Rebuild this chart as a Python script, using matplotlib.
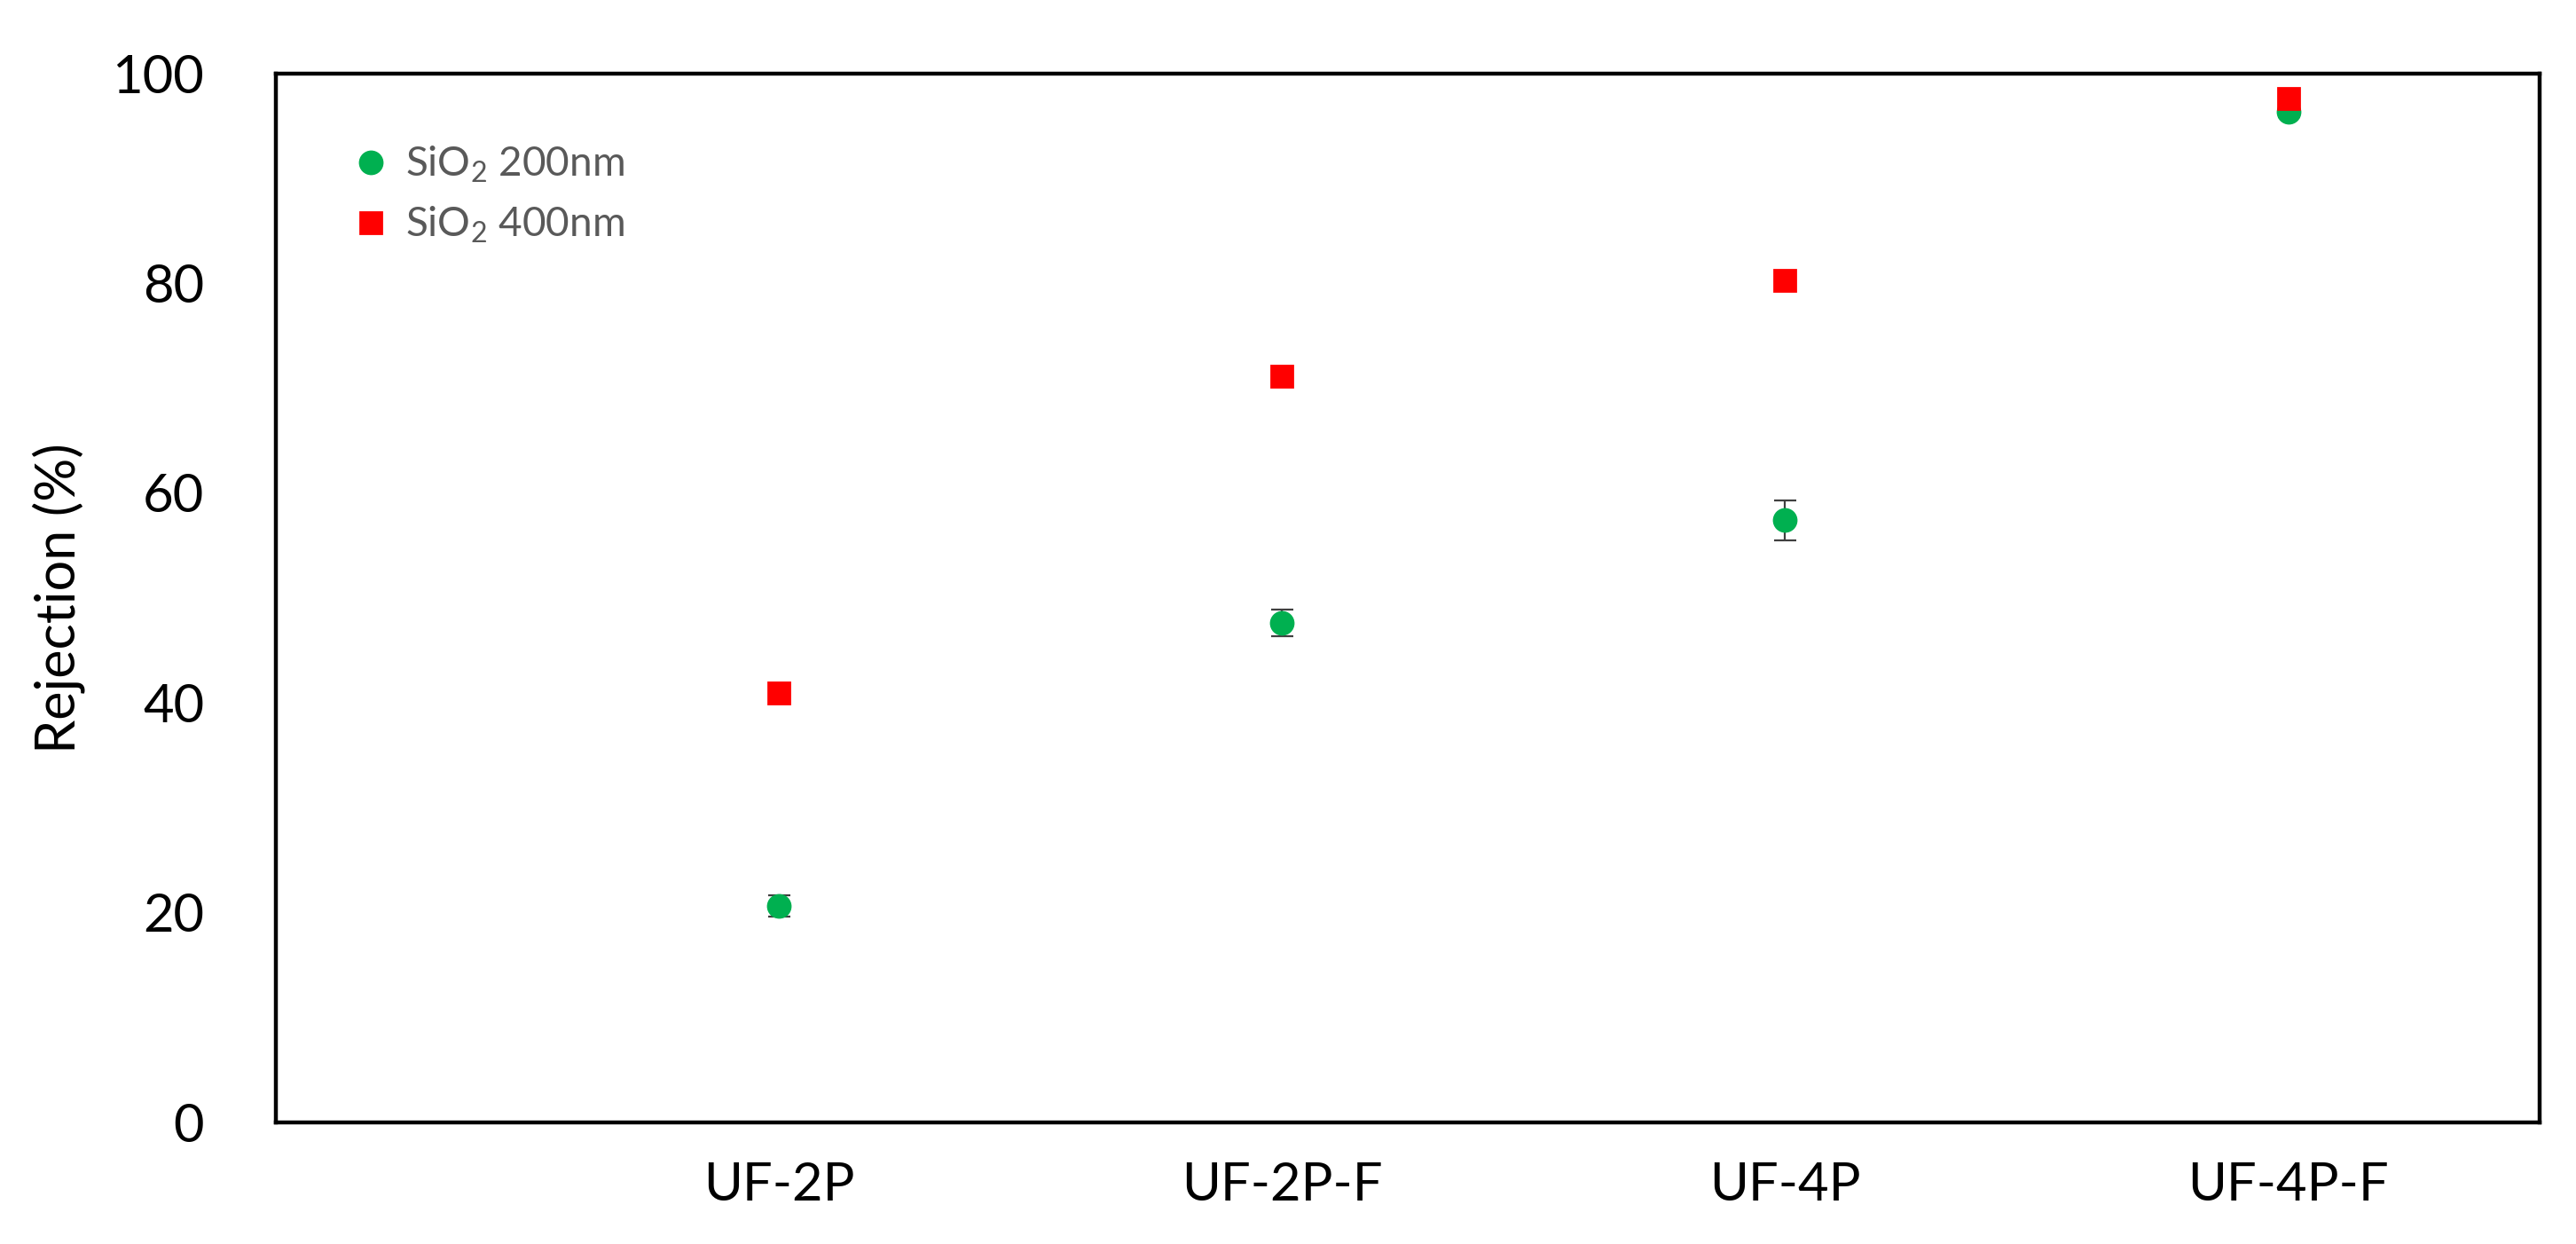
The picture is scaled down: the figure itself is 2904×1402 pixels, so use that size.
import matplotlib
matplotlib.use("Agg")
import matplotlib.pyplot as plt

plt.rcParams['font.family'] = ['Lato', 'DejaVu Sans']
plt.rcParams['mathtext.fontset'] = 'custom'
plt.rcParams['mathtext.rm'] = 'Lato'
plt.rcParams['mathtext.it'] = 'Lato:italic'

categories = ['UF-2P', 'UF-2P-F', 'UF-4P', 'UF-4P-F']
rej_200 = [20.6, 47.6, 57.4, 96.3]
err_200 = [1.0, 1.3, 1.9, 0.5]
rej_400 = [40.9, 71.1, 80.3, 97.6]
err_400 = [0.8, 0.6, 0.6, 0.5]

x = list(range(1, len(categories) + 1))

fig = plt.figure(figsize=(14.52, 7.01), dpi=200)
ax = fig.add_axes([0.107, 0.098, 0.879, 0.843])

# error bars first, markers on top
ax.errorbar(x, rej_200, yerr=err_200, fmt='none', ecolor='#404040',
            elinewidth=0.8, capsize=4.5, capthick=0.8, zorder=2)
ax.errorbar(x, rej_400, yerr=err_400, fmt='none', ecolor='#404040',
            elinewidth=0.8, capsize=4.5, capthick=0.8, zorder=2)
ax.plot(x, rej_200, 'o', color='#00b050', ms=9, ls='none',
        label='SiO$_\\mathregular{2}$ 200nm', zorder=3)
ax.plot(x, rej_400, 's', color='#ff0000', ms=8.5, ls='none',
        label='SiO$_\\mathregular{2}$ 400nm', zorder=3)

ax.set_xlim(0, 4.5)
ax.set_ylim(0, 100)
ax.set_xticks(x)
ax.set_xticklabels(categories)
ax.set_yticks([0, 20, 40, 60, 80, 100])
ax.tick_params(axis='both', length=0, labelsize=21.5)
ax.tick_params(axis='y', pad=29)
ax.tick_params(axis='x', pad=16)
ax.set_ylabel('Rejection (%)', fontsize=22, labelpad=11)
for s in ax.spines.values():
    s.set_linewidth(1.6)

leg = ax.legend(loc='upper left', bbox_to_anchor=(0.017, 0.967), frameon=False,
                fontsize=16.5, handletextpad=0.35, labelspacing=0.5,
                handlelength=1.0)
for t in leg.get_texts():
    t.set_color('#595959')

fig.savefig('out.png', dpi=200)
